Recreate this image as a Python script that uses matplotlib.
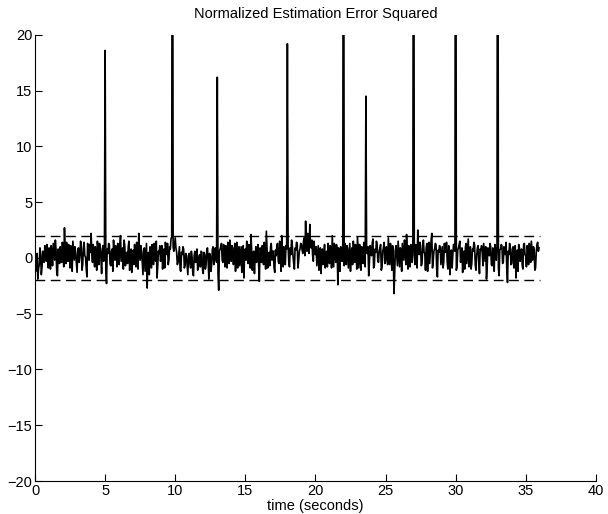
import numpy as np
import matplotlib.pyplot as plt

plt.rcParams['font.family'] = ['Liberation Sans', 'DejaVu Sans']

# NEES trace, one row per second.
# noise: samples at t = k*0.1, noise_mid: samples at t = k*0.1 + 0.05
dt = 0.05
noise = [
    0.8, -0.5, -1.9, -0.6, 0.3, -0.8, 0.2, 1.1, -0.3, 0.5,
    0.9, -1.0, 0.4, 1.3, -0.2, 0.7, -1.6, 0.2, 1.0, -0.4,
    0.6, 2.7, -0.5, 0.8, 1.2, -0.9, 0.3, 1.5, -0.2, 0.4,
    -1.3, 0.9, 0.2, 1.1, -0.6, 1.4, 0.1, -1.7, 0.7, 1.2,
    2.2, -0.4, 0.5, 1.0, -1.1, 0.6, 1.3, 0.0, 0.8, -0.3,
    0.9, -2.3, 0.4, 1.2, -0.7, 0.8, 1.6, -0.2, 0.5, 1.3,
    -0.6, 2.0, 0.3, -1.0, 1.1, 0.4, -0.5, 1.5, 0.2, -1.3,
    0.7, 1.2, -0.8, 0.3, 2.2, -0.2, 0.6, -1.5, 0.9, 0.1,
    -2.7, 0.5, 1.0, -0.9, 0.4, 1.3, -0.3, -1.8, 0.6, 1.1,
    0.2, -1.0, 0.8, 1.4, 0.3, -0.6, 1.0, 1.7, 0.5, 0.6,
    1.8, 0.5, -0.4, 1.0, -1.2, 0.3, 0.8, -0.7, 0.2, -1.5,
    0.4, -0.9, 0.1, -1.6, 0.6, -0.3, -1.1, 0.2, -0.8, 0.5,
    -1.4, 0.3, -0.6, 0.9, -1.9, 0.1, -0.5, 1.0, -0.2, 0.6,
    0.4, -2.9, 0.8, 1.3, -0.4, 0.5, 1.1, -0.9, 0.7, 1.6,
    -0.3, 0.9, 0.2, -1.2, 1.4, 0.5, -0.7, 1.0, 0.3, -1.8,
    0.8, 1.5, -0.5, 0.4, 2.1, -1.1, 0.6, 0.1, -0.4, 1.2,
    -2.1, 0.7, 1.1, -0.6, 0.3, 2.4, -0.9, 0.5, 1.0, -0.2,
    0.6, -1.3, 0.2, 1.3, -0.5, 0.9, 2.0, -0.8, 0.4, 1.1,
    0.5, -0.4, 0.9, 1.6, 0.2, -1.0, 0.7, 1.3, -0.3, 0.8,
    1.2, 0.4, 1.8, 3.3, 0.6, 1.4, 3.0, 0.9, 0.2, 1.5,
    0.3, -0.7, 1.1, 0.5, -1.4, 0.8, 0.1, -0.9, 0.6, 1.3,
    -0.5, 0.9, 2.0, -0.8, 0.4, 1.2, -2.4, 0.6, 1.0, -0.3,
    0.5, 1.3, -0.6, 0.8, 0.2, -1.2, 0.9, 1.5, -0.4, 0.6,
    1.9, -0.9, 0.3, 1.0, -0.5, 0.7, 0.5, 0.4, -1.6, 1.1,
    0.2, 1.7, -0.7, 0.5, 1.2, -0.4, 0.9, -1.1, 0.6, 1.4,
    -0.3, 0.8, 1.8, -0.6, 0.4, 1.1, -3.2, 0.7, 0.2, 1.5,
    -0.8, 0.6, 1.3, -0.2, 0.9, 2.1, -1.0, 0.5, 1.2, -0.4,
    1.0, -0.6, 0.7, 2.5, 0.3, 1.1, -0.5, 1.6, 0.4, 0.9,
    -1.2, 1.4, 0.6, 2.2, -0.3, 0.8, 1.2, -1.7, 0.5, 1.0,
    0.2, -0.9, 1.3, 0.6, -0.4, 1.1, -1.5, 0.7, 0.3, 1.2,
    0.5, -0.8, 0.9, 1.5, 0.1, -1.3, 0.6, 1.0, -0.5, 1.7,
    0.3, -1.0, 0.8, 1.4, -0.6, 0.2, 1.1, -1.4, 0.7, 0.4,
    1.3, -0.3, -1.9, 0.9, 0.2, 1.0, -0.7, 0.5, 1.2, -0.2,
    0.6, -1.6, 0.8, 1.1, -0.4, 0.5, 1.4, -2.2, 0.3, 0.9,
    -0.5, 1.0, 0.4, -1.8, 0.7, 1.2, -0.3, 0.8, -1.0, 1.3,
    0.2, 1.1, -0.6, 0.9, 1.5, -0.2, 0.7, -0.9, 1.2, 0.6,
]
noise_mid = [
    -1.2, 0.4, -1.0, 0.9, -1.5, 0.6, -0.4, 0.3, 1.2, -0.9,
    0.2, 1.1, -0.7, 0.5, 1.6, -1.3, 0.8, -0.5, 0.1, 1.4,
    -0.8, 0.9, 1.4, -0.3, 0.5, 1.1, -1.2, 0.6, 1.0, -0.5,
    0.7, -0.4, 1.5, -1.1, 0.8, 0.2, -0.9, 1.3, -0.2, 0.5,
    0.4, 1.2, -0.8, 0.3, 1.5, -0.6, 0.9, -1.4, 1.1, 0.2,
    -1.0, 0.8, 1.3, -0.5, 0.6, -1.2, 0.4, 1.1, -0.8, 0.7,
    1.2, -0.3, 0.9, 1.6, -0.7, 0.5, 1.0, -1.1, 0.8, 0.3,
    -0.6, 0.5, 1.4, -1.0, 0.7, 1.1, -0.4, 0.6, -1.2, 1.3,
    0.3, -1.5, 0.8, 1.2, -0.6, 0.2, 1.5, -0.8, 0.4, -0.3,
    1.1, 0.5, -0.9, 0.6, 1.3, -0.2, 0.8, 1.9, 1.0, 1.2,
    0.9, -0.6, 0.3, -1.1, 0.5, 1.0, -0.9, 0.4, -0.7, 0.2,
    -0.5, 0.6, -1.3, 0.2, -0.4, 0.8, -0.9, 0.3, 0.6, -1.1,
    0.5, -1.0, 0.7, -0.3, 0.4, -1.2, 0.8, -0.6, 0.9, -0.4,
    -1.4, 0.6, 1.0, -0.2, 1.2, -0.8, 0.3, 1.4, -0.5, 0.8,
    1.1, -0.6, 1.3, 0.4, -0.9, 1.0, 0.2, -1.3, 1.1, 0.5,
    -0.2, 0.6, 1.2, -0.9, 0.8, 0.3, -1.4, 1.0, 0.7, -0.6,
    0.9, -0.4, 0.5, 1.4, -1.0, 0.8, 0.2, -0.7, 1.3, 0.6,
    -0.9, 0.7, 1.1, -0.3, 1.5, -1.2, 0.4, 1.0, -0.6, 0.8,
    1.2, -0.8, 0.3, 1.1, -0.5, 0.9, 1.4, -0.9, 0.6, 1.3,
    0.7, 1.5, 0.2, 1.1, 2.2, 0.4, 1.0, 1.6, -0.3, 0.6,
    1.0, 0.2, -1.1, 0.9, 0.4, -0.6, 1.2, 0.3, -0.8, 0.5,
    1.1, -0.9, 0.6, 1.3, -0.4, 0.7, 0.9, -1.2, 0.4, 1.2,
    -0.7, 0.9, 1.1, -0.9, 1.3, 0.5, -0.6, 0.8, 1.2, -1.0,
    0.6, 1.2, -1.1, 0.7, 1.4, -0.8, 0.5, 1.0, -0.4, 0.8,
    1.3, -0.9, 0.8, 1.5, -0.3, 0.6, 1.2, -0.8, 0.9, -0.5,
    1.0, -0.6, 0.5, 1.3, -1.1, 0.7, -1.5, 1.1, -0.7, 0.4,
    0.9, -1.2, 0.5, 1.6, -0.6, 0.4, 1.1, -0.8, 0.6, 1.4,
    0.3, 1.2, -0.9, 0.8, 1.4, -0.7, 0.9, 0.5, -1.1, 1.3,
    0.8, -0.5, 1.6, -0.9, 0.6, 1.3, -1.0, 0.7, 1.1, -0.6,
    1.0, -0.4, 0.5, 1.4, -1.0, 0.8, 0.2, -0.9, 1.2, 0.6,
    -1.1, 0.7, 1.2, -0.4, 0.9, 0.5, -1.0, 1.3, 0.6, -0.8,
    1.0, -0.5, 0.6, 1.2, -1.1, 0.9, -0.3, 0.8, 1.1, -0.7,
    0.5, 1.0, -0.8, 0.4, 1.3, -0.6, 0.9, -1.2, 0.6, 1.1,
    -0.9, 0.7, 1.2, -0.5, 1.0, 0.3, -1.1, 0.6, 1.3, -0.6,
    0.8, -0.9, 1.1, 0.5, -1.2, 0.9, 0.4, -0.7, 1.2, 0.3,
    -0.8, 0.7, 1.3, -0.4, 0.6, 1.0, -1.1, 0.5, 1.4, 0.9,
]

# spikes (time in s, value); the big ones run off the top of the plot
spike_t = [5.0, 9.8, 13.0, 18.0, 22.0, 23.6, 27.0, 30.0, 33.0]
spike_v = [18.6, 60, 16.2, 19.2, 60, 14.5, 60, 60, 60]

bound = 2.0
t_end = 36.0

y = np.empty(2 * len(noise))
y[0::2] = noise
y[1::2] = noise_mid
t = np.arange(len(y)) * dt
for st, sv in zip(spike_t, spike_v):
    y[int(round(st / dt))] = sv

fig = plt.figure(figsize=(6.08, 5.14), dpi=100)
ax = fig.add_axes([0.0576, 0.0642, 0.9224, 0.868])

ax.plot(t, y, color='black', lw=1.2)
ax.plot([0, t_end], [bound, bound], 'k--', lw=1.0, dashes=(7, 4))
ax.plot([0, t_end], [-bound, -bound], 'k--', lw=1.0, dashes=(7, 4))

ax.set_xlim(0, 40)
ax.set_ylim(-20, 20)
ax.set_xticks(np.arange(0, 41, 5))
ax.set_yticks(np.arange(-20, 21, 5))
ax.spines['top'].set_visible(False)
ax.spines['right'].set_visible(False)
ax.tick_params(direction='in', length=5, labelsize=10.5, pad=2)
ax.set_title('Normalized Estimation Error Squared', fontsize=10.5, pad=12)
ax.set_xlabel('time (seconds)', fontsize=10.5, labelpad=1)

fig.savefig('out.png', dpi=100)
